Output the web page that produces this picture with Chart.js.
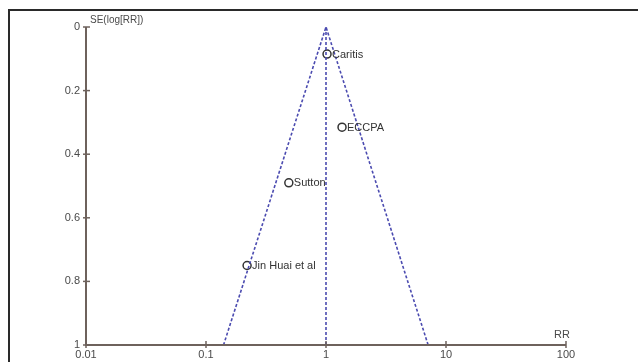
<!DOCTYPE html>
<html>
<head>
<meta charset="utf-8">
<script src="https://cdn.jsdelivr.net/npm/chart.js@4"></script>
<style>
    html, body { margin: 0; padding: 0; background: #fff; }
    #wrap { position: relative; width: 638px; height: 362px; }
    #frame { position: absolute; left: 8px; top: 9px; right: 0; bottom: 0;
             border-top: 2px solid #2a2a2a; border-left: 2px solid #2a2a2a; pointer-events: none; }
</style>
</head>
<body>
<div id="wrap">
    <canvas id="funnel" width="638" height="362"></canvas>
    <div id="frame"></div>
</div>
<script>
// studies
var studies = ["Caritis", "ECCPA", "Sutton", "Jin Huai et al"];
var studyRR = [1.02, 1.36, 0.49, 0.22];
var studySE = [0.085, 0.315, 0.49, 0.75];

// funnel (pseudo 95% limits)
var funnelRR = [0.14, 1, 7.1];
var funnelSE = [1, 0, 1];
var pooledRR = [1, 1];
var pooledSE = [0, 1];

var xTicks = [0.01, 0.1, 1, 10, 100];
var yTicks = [0, 0.2, 0.4, 0.6, 0.8, 1];

var axisColor = "#6e625c";
var textColor = "#4a4a4a";
var dashColor = "#4b4bb0";

function pairs(xs, ys) {
    var out = [];
    for (var i = 0; i < xs.length; i++) out.push({x: xs[i], y: ys[i]});
    return out;
}

var axesPlugin = {
    id: "axesPlugin",
    afterDraw: function (chart) {
        var ctx = chart.ctx;
        var xs = chart.scales.x, ys = chart.scales.y;
        var left = xs.left, bottom = ys.bottom, top = ys.top, right = xs.right;
        ctx.save();
        ctx.strokeStyle = axisColor;
        ctx.lineWidth = 2;
        ctx.beginPath();
        ctx.moveTo(left, top);
        ctx.lineTo(left, bottom);
        ctx.lineTo(right, bottom);
        ctx.stroke();
        ctx.lineWidth = 1.5;
        yTicks.forEach(function (v) {
            var py = ys.getPixelForValue(v);
            ctx.beginPath();
            ctx.moveTo(left - 3, py);
            ctx.lineTo(left + 4, py);
            ctx.stroke();
        });
        xTicks.forEach(function (v) {
            var px = xs.getPixelForValue(v);
            ctx.beginPath();
            ctx.moveTo(px, bottom - 4);
            ctx.lineTo(px, bottom + 3);
            ctx.stroke();
        });
        ctx.fillStyle = textColor;
        ctx.font = "10px 'Liberation Sans', Arial, sans-serif";
        ctx.textBaseline = "middle";
        ctx.textAlign = "left";
        ctx.fillText("SE(log[RR])", left + 4, top - 7);
        ctx.font = "11px 'Liberation Sans', Arial, sans-serif";
        ctx.textAlign = "right";
        ctx.fillText("RR", right + 4, bottom - 10);

        // study names next to the points
        var meta = chart.getDatasetMeta(2);
        ctx.fillStyle = "#333";
        ctx.textAlign = "left";
        meta.data.forEach(function (pt, i) {
            ctx.fillText(studies[i], pt.x + 5, pt.y + 0.5);
        });
        ctx.restore();
    }
};

new Chart(document.getElementById("funnel"), {
    type: "scatter",
    data: {
        datasets: [
            {
                data: pairs(funnelRR, funnelSE),
                showLine: true,
                borderColor: dashColor,
                borderWidth: 1.6,
                borderDash: [3, 2],
                pointRadius: 0,
                fill: false
            },
            {
                data: pairs(pooledRR, pooledSE),
                showLine: true,
                borderColor: dashColor,
                borderWidth: 1.6,
                borderDash: [3, 2],
                pointRadius: 0,
                fill: false
            },
            {
                data: pairs(studyRR, studySE),
                pointRadius: 4,
                pointBorderWidth: 1.5,
                pointBorderColor: "#333",
                pointBackgroundColor: "#fff"
            }
        ]
    },
    options: {
        responsive: false,
        animation: false,
        layout: { padding: { top: 27, right: 72, bottom: 0, left: 0 } },
        plugins: { legend: { display: false }, tooltip: { enabled: false } },
        scales: {
            x: {
                type: "logarithmic",
                min: 0.01,
                max: 100,
                afterBuildTicks: function (s) {
                    s.ticks = xTicks.map(function (v) { return {value: v}; });
                },
                afterFit: function (s) { s.height = 17; },
                grid: { display: false, drawTicks: false },
                border: { display: false },
                ticks: {
                    padding: 3,
                    maxRotation: 0,
                    autoSkip: false,
                    color: textColor,
                    font: { family: "'Liberation Sans', Arial, sans-serif", size: 11 },
                    callback: function (v) { return String(v); }
                }
            },
            y: {
                reverse: true,
                min: 0,
                max: 1,
                afterBuildTicks: function (s) {
                    s.ticks = yTicks.map(function (v) { return {value: v}; });
                },
                afterFit: function (s) { s.width = 86; },
                grid: { display: false, drawTicks: false },
                border: { display: false },
                ticks: {
                    padding: 6,
                    color: textColor,
                    font: { family: "'Liberation Sans', Arial, sans-serif", size: 11 },
                    callback: function (v) { return String(+v.toFixed(1)); }
                }
            }
        }
    },
    plugins: [axesPlugin]
});
</script>
</body>
</html>
